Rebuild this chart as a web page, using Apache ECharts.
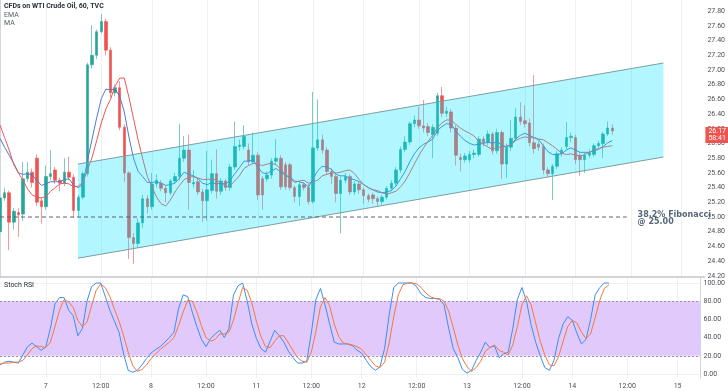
<!DOCTYPE html>
<html><head><meta charset="utf-8">
<script src="https://cdn.jsdelivr.net/npm/echarts@6/dist/echarts.min.js"></script>
<style>html,body{margin:0;padding:0;background:#fff}#c{width:728px;height:391px}</style>
</head><body><div id="c"></div>
<script>
// ---- categories (hourly bars) ----
const days = ['6','7','8','11','12','13','14','15'];
const firstDayStartHour = 13;
const barsPerDay = 23;
const lastDayBars = 6;

// ---- OHLC ----
const open = [24.80,25.26,25.33,24.93,25.06,25.04,25.52,25.61,25.80,25.22,
25.14,25.55,25.64,25.50,25.46,25.61,25.54,25.09,25.27,25.59,
27.07,27.20,27.52,27.66,27.27,26.69,26.76,26.22,25.60,24.72,
24.64,24.92,25.25,25.14,25.45,25.46,25.39,25.33,25.49,25.55,
25.80,25.91,25.45,25.48,25.34,25.22,25.36,25.59,25.35,25.49,
25.40,25.68,25.96,25.96,25.91,25.75,25.84,25.52,25.52,25.57,
25.76,25.80,25.71,25.71,25.40,25.28,25.44,25.40,25.21,25.94,
26.05,25.91,25.62,25.55,25.32,25.50,25.55,25.34,25.45,25.37,
25.29,25.30,25.25,25.21,25.27,25.39,25.46,25.64,25.92,26.02,
26.27,26.32,26.24,26.23,26.12,26.14,26.65,26.41,26.43,26.21,
25.81,25.78,25.78,25.85,25.85,26.06,26.01,26.13,25.90,26.15,
25.72,25.95,26.07,26.36,26.31,26.28,26.01,25.99,25.96,25.64,
25.59,25.69,25.86,25.96,26.08,26.08,25.84,25.78,25.84,25.85,
25.97,26.00,26.13,26.21];
const close = [25.26,25.33,24.93,25.08,25.03,25.52,25.61,25.47,25.20,25.14,
25.55,25.59,25.50,25.46,25.61,25.54,25.09,25.27,25.59,27.07,
27.20,27.52,27.66,27.27,26.69,26.76,26.22,25.60,24.72,24.64,
24.92,25.25,25.14,25.45,25.50,25.39,25.33,25.49,25.55,25.80,
25.91,25.47,25.47,25.34,25.22,25.37,25.59,25.35,25.49,25.40,
25.68,25.96,25.98,26.10,25.75,25.84,25.30,25.30,25.57,25.76,
25.80,25.41,25.41,25.40,25.28,25.44,25.40,25.21,25.94,26.05,
25.91,25.62,25.55,25.32,25.50,25.55,25.34,25.45,25.37,25.29,
25.24,25.25,25.21,25.27,25.39,25.46,25.64,25.92,26.02,26.27,
26.32,26.24,26.21,26.15,26.22,26.65,26.41,26.44,26.21,25.84,
25.78,25.83,25.85,25.87,26.06,26.01,26.13,25.90,26.15,25.72,
25.95,26.07,26.36,26.30,26.27,26.01,25.93,25.95,25.64,25.59,
25.69,25.86,25.91,26.08,26.10,25.78,25.78,25.84,25.87,25.97,
26.00,26.13,26.21,26.17];
const high = [25.30,25.40,25.36,25.12,25.12,25.75,25.75,25.66,25.85,25.26,
25.70,25.91,25.68,25.54,25.80,25.82,25.58,25.30,25.62,27.10,
27.61,27.55,27.76,27.70,27.31,26.80,26.85,26.26,25.62,24.78,
24.98,25.30,25.30,25.60,25.58,25.50,25.42,25.52,25.60,26.27,
26.10,26.12,25.64,25.52,25.38,25.90,25.78,25.92,25.53,25.52,
25.72,26.30,26.05,26.25,26.00,26.15,25.88,25.56,25.62,25.80,
26.06,25.84,25.75,25.74,25.43,25.48,25.47,25.45,26.70,26.60,
26.12,25.95,25.66,25.60,25.55,25.60,25.58,25.49,25.48,25.40,
25.32,25.33,25.28,25.30,25.42,25.50,25.68,25.96,26.10,26.30,
26.38,26.50,26.59,26.28,26.26,26.69,26.77,26.50,26.47,26.25,
25.86,25.87,25.90,25.92,26.10,26.10,26.18,26.16,26.20,26.18,
26.00,26.32,26.48,26.56,26.52,26.34,26.93,26.03,26.00,25.68,
25.72,25.90,25.95,26.29,26.15,26.12,25.88,25.88,25.92,26.00,
26.04,26.16,26.30,26.26];
const low = [24.70,25.22,24.55,24.83,24.73,24.95,25.48,25.40,25.15,24.91,
25.10,25.50,25.45,25.35,25.42,25.50,24.99,25.00,25.24,25.55,
27.02,27.15,27.50,27.20,26.62,26.64,26.18,25.48,24.43,24.36,
24.58,24.85,25.05,25.10,25.40,25.35,25.20,25.30,25.45,25.50,
25.75,25.10,25.40,25.30,24.93,24.95,25.32,25.25,25.30,25.36,
25.36,25.64,25.90,25.92,25.70,25.72,25.23,25.10,25.48,25.52,
25.72,25.37,25.37,25.36,25.20,25.15,25.36,25.17,25.18,25.90,
25.86,25.58,25.45,25.20,24.78,25.46,25.30,25.30,25.32,25.18,
25.20,25.18,25.15,25.17,25.24,25.35,25.42,25.60,25.88,25.98,
26.22,26.20,26.15,26.10,25.80,26.10,26.36,26.36,26.15,25.70,
25.62,25.74,25.74,25.80,25.82,25.96,25.97,25.85,25.86,25.52,
25.53,25.90,26.03,26.25,26.22,25.96,25.86,25.90,25.58,25.54,
25.23,25.65,25.82,25.92,26.02,25.72,25.56,25.60,25.80,25.82,
25.93,25.80,26.10,26.12];

// ---- indicator lines ----
const emaLine = [26.07,25.95,25.84,25.73,25.60,25.58,25.59,25.57,25.50,25.43,
25.45,25.48,25.48,25.48,25.51,25.52,25.43,25.40,25.44,25.77,
26.06,26.35,26.61,26.74,26.73,26.74,26.64,26.43,26.09,25.80,
25.62,25.55,25.47,25.47,25.48,25.46,25.43,25.44,25.46,25.53,
25.61,25.58,25.56,25.52,25.46,25.44,25.47,25.45,25.46,25.45,
25.50,25.59,25.67,25.76,25.76,25.78,25.68,25.60,25.59,25.63,
25.66,25.61,25.57,25.54,25.49,25.48,25.46,25.41,25.52,25.63,
25.69,25.68,25.65,25.58,25.56,25.56,25.52,25.51,25.48,25.44,
25.40,25.37,25.34,25.33,25.34,25.36,25.42,25.52,25.62,25.75,
25.86,25.94,25.99,26.02,26.06,26.18,26.23,26.27,26.26,26.17,
26.10,26.04,26.00,25.98,25.99,26.00,26.02,26.00,26.03,25.97,
25.96,25.98,26.06,26.11,26.14,26.11,26.08,26.05,25.97,25.89,
25.85,25.85,25.86,25.91,25.94,25.91,25.88,25.88,25.88,25.90,
25.92,25.96,26.01,26.04];
const maLine = [26.25,26.08,25.91,25.71,25.60,25.50,25.38,25.30,25.27,25.26,
25.28,25.35,25.40,25.45,25.46,25.45,25.41,25.42,25.47,25.64,
25.81,26.04,26.28,26.47,26.60,26.78,26.89,26.89,26.63,26.34,
26.05,25.79,25.55,25.41,25.27,25.18,25.15,25.23,25.34,25.43,
25.51,25.54,25.55,25.53,25.51,25.51,25.52,25.50,25.47,25.41,
25.43,25.49,25.56,25.66,25.70,25.73,25.72,25.70,25.72,25.73,
25.71,25.65,25.57,25.53,25.47,25.49,25.50,25.46,25.48,25.50,
25.56,25.58,25.60,25.60,25.61,25.63,25.64,25.59,25.51,25.44,
25.40,25.37,25.36,25.33,25.31,25.33,25.35,25.41,25.49,25.60,
25.72,25.84,25.94,26.03,26.11,26.22,26.28,26.32,26.32,26.26,
26.21,26.17,26.14,26.10,26.03,25.99,25.95,25.92,25.95,25.95,
25.96,25.98,26.04,26.07,26.09,26.08,26.08,26.06,26.05,26.01,
25.97,25.92,25.87,25.85,25.86,25.84,25.83,25.85,25.88,25.91,
25.93,25.95,25.96,25.97];

// ---- Stoch RSI ----
const stochK = [10,13,14,13,12,21,30,34,30,26,
30,50,77,84,84,70,64,42,50,80,
96,100,100,85,70,58,46,22,4,2,
4,10,17,23,27,30,35,40,46,72,
87,85,68,52,38,30,39,44,48,40,
50,87,97,100,80,55,39,28,24,36,
48,42,35,25,18,12,12,14,45,82,
94,76,55,35,33,33,33,31,26,23,
15,8,4,8,28,65,95,100,100,100,
100,96,88,84,83,83,82,76,50,28,
18,5,1,4,15,24,35,29,31,18,
22,24,50,82,95,80,54,35,20,7,
4,15,39,55,63,59,45,33,38,60,
87,95,100,100];
const stochD = [11,12,12,13,13,15,21,28,31,30,
29,35,52,70,82,79,73,59,52,57,
75,92,99,95,85,71,58,42,24,9,
3,5,10,17,22,27,31,35,40,53,
68,81,80,68,53,40,36,38,44,44,
46,59,78,95,92,78,58,41,30,29,
36,42,42,34,26,18,14,13,24,47,
74,84,75,55,41,34,33,32,30,27,
21,15,9,7,13,34,63,87,98,100,
100,99,95,89,85,83,83,80,69,51,
32,17,8,3,7,14,25,29,32,26,
24,21,32,52,76,86,76,56,36,21,
10,9,19,36,52,59,56,46,39,44,
62,81,94,98];

// ---- drawings ----
const channelUpper = [[16.94, 25.72], [144.1, 27.095]];
const channelLower = [[16.94, 24.44], [144.1, 25.816]];
const fibLevel = 25.00;
const fibSpan = [0, 136.1];
const fibText = '38.2% Fibonacci';
const countdown = '58:41';

// ---- axis ticks ----
const priceTicks = [24.2,24.4,24.6,24.8,25.0,25.2,25.4,25.6,25.8,26.0,26.2,26.4,26.6,26.8,27.0,27.2,27.4,27.6,27.8];
const rsiTicks = [0,20,40,60,80,100];
const rsiBand = [20, 80];

// build categories
const cats = [];
days.forEach((d, k) => {
  let h0 = 0, h1 = barsPerDay - 1;
  if (k === 0) h0 = firstDayStartHour;
  if (k === days.length - 1) h1 = lastDayBars - 1;
  for (let h = h0; h <= h1; h++) cats.push(d + '|' + h);
});
const nCat = cats.length;
const isMark = (idx, val) => { const h = +String(val).split('|')[1]; return h === 0 || h === 12; };
const fmtCat = (val) => { const p = String(val).split('|'); return +p[1] === 0 ? p[0] : '12:00'; };

const ohlc = open.map((o, i) => [o, close[i], low[i], high[i]]);
const lastClose = close[close.length - 1];

const FONT = 'Roboto';
const gridColor = '#eef0f4';
const axisTextColor = '#4c4f58';

const chart = echarts.init(document.getElementById('c'), null, {renderer: 'canvas'});
chart.setOption({
  animation: false,
  textStyle: {fontFamily: FONT},
  title: [
    {text: 'CFDs on WTI Crude Oil, 60, TVC', left: 4, top: 3, padding: 0, textStyle: {fontSize: 7, fontWeight: 'bold', color: '#2a2e39', fontFamily: FONT}},
    {text: 'EMA', left: 4, top: 12, padding: 0, textStyle: {fontSize: 7, fontWeight: 'normal', color: '#555a66', fontFamily: FONT}},
    {text: 'MA', left: 4, top: 20, padding: 0, textStyle: {fontSize: 7, fontWeight: 'normal', color: '#555a66', fontFamily: FONT}},
    {text: 'Stoch RSI', left: 4, top: 282, padding: 0, textStyle: {fontSize: 7, fontWeight: 'normal', color: '#2a2e39', fontFamily: FONT}}
  ],
  grid: [
    {left: 0, right: 23, top: 0, height: 277},
    {left: 0, right: 23, top: 278, height: 100}
  ],
  xAxis: [
    {type: 'category', gridIndex: 0, data: cats, boundaryGap: false,
      axisLine: {show: true, lineStyle: {color: '#c3c6ce', width: 1.5}},
      axisTick: {show: false}, axisLabel: {show: false},
      splitLine: {show: true, interval: isMark, lineStyle: {color: gridColor, width: 1}}},
    {type: 'category', gridIndex: 1, data: cats, boundaryGap: false,
      axisLine: {show: true, lineStyle: {color: '#c3c6ce', width: 1}},
      axisTick: {show: false},
      axisLabel: {show: true, interval: isMark, formatter: fmtCat, fontSize: 7, color: axisTextColor, margin: 5, fontFamily: FONT},
      splitLine: {show: true, interval: isMark, lineStyle: {color: gridColor, width: 1}}},
    {type: 'value', gridIndex: 0, min: 0, max: nCat - 1, show: false}
  ],
  yAxis: [
    {type: 'value', gridIndex: 0, position: 'right', min: 24.184, max: 27.952, scale: true,
      axisLine: {show: true, lineStyle: {color: '#d3d6dd'}},
      axisTick: {show: true, customValues: priceTicks, inside: true, length: 705, lineStyle: {color: gridColor}},
      axisLabel: {show: true, customValues: priceTicks, formatter: v => v.toFixed(2), fontSize: 7, color: axisTextColor, margin: 3, fontFamily: FONT},
      splitLine: {show: false}},
    {type: 'value', gridIndex: 1, position: 'right', min: -4.4, max: 105.5,
      axisLine: {show: true, lineStyle: {color: '#d3d6dd'}},
      axisTick: {show: true, customValues: rsiTicks, inside: true, length: 705, lineStyle: {color: gridColor}},
      axisLabel: {show: true, customValues: rsiTicks, formatter: v => v.toFixed(2), fontSize: 7, color: axisTextColor, margin: 3, fontFamily: FONT},
      splitLine: {show: false}}
  ],
  series: [
    {type: 'candlestick', xAxisIndex: 0, yAxisIndex: 0, data: ohlc, barWidth: 3, z: 2,
      itemStyle: {color: '#26a69a', color0: '#ef5350', borderColor: '#26a69a', borderColor0: '#ef5350', borderWidth: 0.6}},
    {type: 'line', name: 'EMA', xAxisIndex: 0, yAxisIndex: 0, data: emaLine, symbol: 'none', z: 3,
      lineStyle: {color: '#4f79cf', width: 1}},
    {type: 'line', name: 'MA', xAxisIndex: 0, yAxisIndex: 0, data: maLine, symbol: 'none', z: 3,
      lineStyle: {color: '#eb5757', width: 1}},
    {type: 'custom', xAxisIndex: 2, yAxisIndex: 0, z: 4, silent: true, clip: false,
      data: [channelUpper[0]],
      renderItem: (params, api) => {
        const tl = api.coord(channelUpper[0]), tr = api.coord(channelUpper[1]);
        const bl = api.coord(channelLower[0]), br = api.coord(channelLower[1]);
        return {type: 'group', children: [
          {type: 'polygon', shape: {points: [tl, tr, br, bl]}, style: {fill: 'rgba(0,229,255,0.3)'}},
          {type: 'line', shape: {x1: tl[0], y1: tl[1], x2: tr[0], y2: tr[1]}, style: {stroke: '#7a9ea2', lineWidth: 1}},
          {type: 'line', shape: {x1: bl[0], y1: bl[1], x2: br[0], y2: br[1]}, style: {stroke: '#7a9ea2', lineWidth: 1}}
        ]};
      }},
    {type: 'custom', xAxisIndex: 2, yAxisIndex: 0, z: 5, silent: true, clip: false,
      data: [[fibSpan[0], fibLevel]],
      renderItem: (params, api) => {
        const a = api.coord([fibSpan[0], fibLevel]), b = api.coord([fibSpan[1], fibLevel]);
        return {type: 'group', children: [
          {type: 'line', shape: {x1: a[0], y1: a[1], x2: b[0], y2: b[1]}, style: {stroke: '#5f636e', lineWidth: 1, lineDash: [4, 3]}},
          {type: 'text', style: {text: fibText + '\n@ ' + fibLevel.toFixed(2), x: b[0] + 11, y: b[1] + 1,
            verticalAlign: 'middle', align: 'left', fill: '#56677a',
            font: 'bold 8px "DejaVu Sans"', lineHeight: 7}}
        ]};
      }},
    {type: 'custom', xAxisIndex: 2, yAxisIndex: 0, z: 10, silent: true, clip: false,
      data: [[nCat - 1, lastClose]],
      renderItem: (params, api) => {
        const p = api.coord([nCat - 1, lastClose]);
        return {type: 'text', style: {text: lastClose.toFixed(2) + '\n' + countdown, x: p[0] + 1, y: p[1] - 4,
          verticalAlign: 'top', align: 'left', fill: '#fff', backgroundColor: '#ef5350',
          font: '7px Roboto', lineHeight: 7, padding: [1, 3, 1, 3]}};
      }},
    {type: 'line', name: '%K', xAxisIndex: 1, yAxisIndex: 1, data: stochK, symbol: 'none', z: 3,
      lineStyle: {color: '#3a8ff0', width: 1},
      markArea: {silent: true, itemStyle: {color: '#e1c9fb'}, data: [[{yAxis: rsiBand[0]}, {yAxis: rsiBand[1]}]]}},
    {type: 'line', name: '%D', xAxisIndex: 1, yAxisIndex: 1, data: stochD, symbol: 'none', z: 3,
      lineStyle: {color: '#f5773f', width: 1},
      markLine: {silent: true, symbol: ['none', 'none'], label: {show: false},
        lineStyle: {color: '#9a90a8', width: 1, type: [2, 2]},
        data: [{yAxis: rsiBand[0]}, {yAxis: rsiBand[1]}]}}
  ]
});
</script></body></html>
